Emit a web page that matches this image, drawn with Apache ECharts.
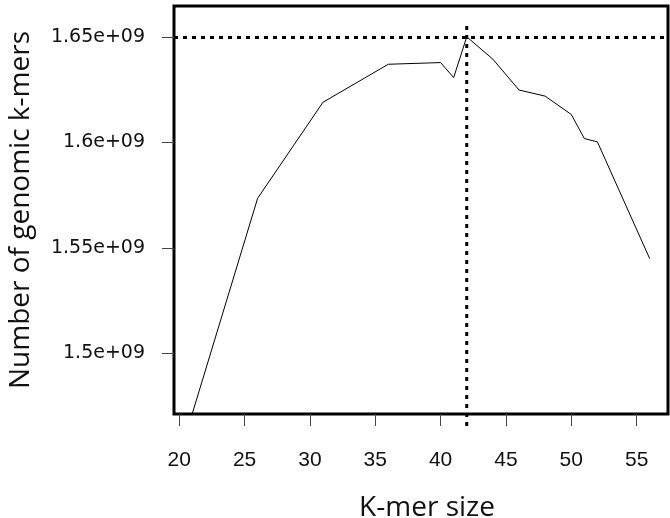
<!DOCTYPE html>
<html>
<head>
<meta charset="utf-8">
<script src="https://cdn.jsdelivr.net/npm/echarts@6/dist/echarts.min.js"></script>
<style>
  html, body { margin: 0; padding: 0; background: #fff; }
  #chart { width: 670px; height: 518px; }
</style>
</head>
<body>
<div id="chart"></div>
<script>
  // k-mer sizes and genomic k-mer counts
  var kmerSizes = [21, 26, 31, 36, 40, 41, 42, 44, 46, 48, 50, 51, 52, 56];
  var kmerCounts = [1.4715e9, 1.5735e9, 1.619e9, 1.637e9, 1.6378e9, 1.6307e9, 1.65e9,
                    1.6394e9, 1.6248e9, 1.6219e9, 1.6132e9, 1.6018e9, 1.6002e9, 1.5449e9];
  var xTicks = [20, 25, 30, 35, 40, 45, 50, 55];
  var yTicks = [1.5e9, 1.55e9, 1.6e9, 1.65e9];
  // best k and its count (dotted guide lines)
  var bestK = 42;
  var bestCount = 1.65e9;
  var bestKLineSpan = [1.6551e9, 1.4632e9];

  var chart = echarts.init(document.getElementById('chart'));

  var lineData = kmerSizes.map(function (k, i) { return [k, kmerCounts[i]]; });
  var vLine = bestKLineSpan.map(function (v) { return [bestK, v]; });

  chart.setOption({
    animation: false,
    backgroundColor: '#ffffff',
    grid: {
      left: 174, top: 6, width: 494, height: 408,
      outerBoundsMode: 'none',
      containLabel: false,
      show: true,
      borderColor: '#000',
      borderWidth: 3,
      backgroundColor: 'transparent'
    },
    xAxis: {
      type: 'value',
      min: 19.6,
      max: 57.4,
      name: 'K-mer size',
      nameLocation: 'middle',
      nameGap: 80,
      nameTextStyle: { fontFamily: 'Open Sans', fontSize: 28, color: '#111', padding: [0, 0, 0, 12] },
      axisLine: { show: false },
      splitLine: { show: false },
      axisTick: {
        show: true, length: 12, customValues: xTicks,
        lineStyle: { color: '#444', width: 1 }
      },
      axisLabel: {
        customValues: xTicks,
        margin: 36,
        fontFamily: 'Liberation Sans',
        fontSize: 21,
        color: '#111'
      }
    },
    yAxis: {
      type: 'value',
      min: 1.4713e9,
      max: 1.6646e9,
      name: 'Number of genomic k-mers',
      nameLocation: 'middle',
      nameGap: 139,
      nameRotate: 90,
      nameTextStyle: { fontFamily: 'Open Sans', fontSize: 28, color: '#111' },
      axisLine: { show: false },
      splitLine: { show: false },
      axisTick: {
        show: true, length: 12, customValues: yTicks,
        lineStyle: { color: '#444', width: 1 }
      },
      axisLabel: {
        customValues: yTicks,
        margin: 29,
        fontFamily: 'DejaVu Sans',
        fontSize: 19,
        color: '#111',
        formatter: function (v) {
          return parseFloat((v / 1e9).toFixed(2)) + 'e+09';
        }
      }
    },
    series: [
      {
        type: 'line',
        data: lineData,
        showSymbol: false,
        clip: true,
        lineStyle: { color: '#000', width: 1 },
        markLine: {
          silent: true,
          symbol: 'none',
          label: { show: false },
          lineStyle: { color: '#000', width: 3, type: [4, 5] },
          data: [{ yAxis: bestCount }]
        }
      },
      {
        type: 'line',
        data: vLine,
        showSymbol: false,
        clip: false,
        silent: true,
        lineStyle: { color: '#000', width: 3, type: [4, 5] }
      }
    ]
  });
</script>
</body>
</html>
